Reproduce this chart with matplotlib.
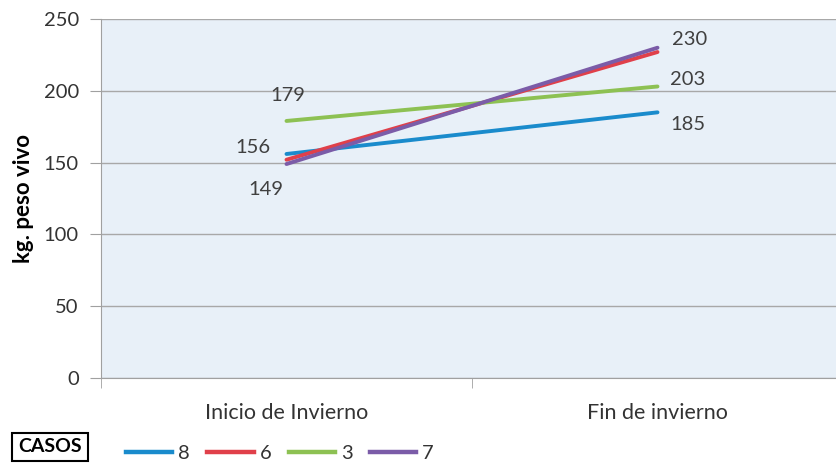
import matplotlib
matplotlib.use("Agg")
import matplotlib.pyplot as plt
from matplotlib.lines import Line2D

plt.rcParams['font.family'] = ['Lato', 'DejaVu Sans']

categories = ["Inicio de Invierno", "Fin de invierno"]
series_names = ["8", "6", "3", "7"]
values_8 = [156, 185]
values_6 = [152, 227]
values_3 = [179, 203]
values_7 = [149, 230]
colors = ["#1A8BCC", "#E0404A", "#8DC153", "#7B5CA8"]
y_ticks = [0, 50, 100, 150, 200, 250]

fig = plt.figure(figsize=(8.37, 4.63), dpi=100)
ax = fig.add_axes([101 / 837, 85 / 463, 742 / 837, 359 / 463])
ax.set_facecolor("#E8F0F8")

all_series = [values_8, values_6, values_3, values_7]
xs = list(range(len(categories)))
for vals, col, name in zip(all_series, colors, series_names):
    ax.plot(xs, vals, color=col, lw=2.8, solid_capstyle="round", label=name)

ax.set_xlim(-0.5, 1.5)
ax.set_ylim(0, 250)
ax.set_yticks(y_ticks)
ax.set_xticks(xs)
ax.set_xticklabels(categories)
ax.set_xticks([-0.5, 0.5, 1.5], minor=True)
ax.tick_params(axis="x", which="major", length=0, pad=18, labelsize=15.5, labelcolor="#333333")
ax.tick_params(axis="x", which="minor", length=7, color="#A0A0A0", direction="out")
ax.tick_params(axis="y", length=8, color="#A0A0A0", labelsize=14.5, labelcolor="#333333", pad=8)
ax.yaxis.grid(True, color="#A8A8A8", lw=1)
ax.set_axisbelow(True)
for s in ["top", "right"]:
    ax.spines[s].set_visible(False)
for s in ["left", "bottom"]:
    ax.spines[s].set_color("#A0A0A0")

ax.set_ylabel("kg. peso vivo", fontsize=16, fontweight="bold")
ax.yaxis.set_label_coords(-0.09, 0.5)

lab_col = "#404040"
def label(x, y, dx, dy, ha="center"):
    ax.annotate(str(y), (x, y), xytext=(dx, dy), textcoords="offset points",
                ha=ha, va="center", fontsize=14.5, color=lab_col)

label(0, values_8[0], -24, 5)
label(0, values_7[0], -15, -18)
label(0, values_3[0], 1, 18)
label(1, values_7[1], 23, 6)
label(1, values_3[1], 22, 5)
label(1, values_8[1], 22, -8.5)

handles = [Line2D([0], [0], color=c, lw=3.2) for c in colors]
fig.legend(handles, series_names, loc="center left", bbox_to_anchor=(108 / 837, 1 - 453 / 463),
           ncol=4, frameon=False, fontsize=14.5, handlelength=2.3, handletextpad=0.3,
           columnspacing=0.85, labelcolor="#333333")

fig.text(50 / 837, 1 - 447 / 463, "CASOS", ha="center", va="center", fontsize=14,
         fontweight="bold", color="black",
         bbox=dict(boxstyle="square,pad=0.3", facecolor="white", edgecolor="black", lw=1.5))

fig.savefig("out.png", dpi=100)
